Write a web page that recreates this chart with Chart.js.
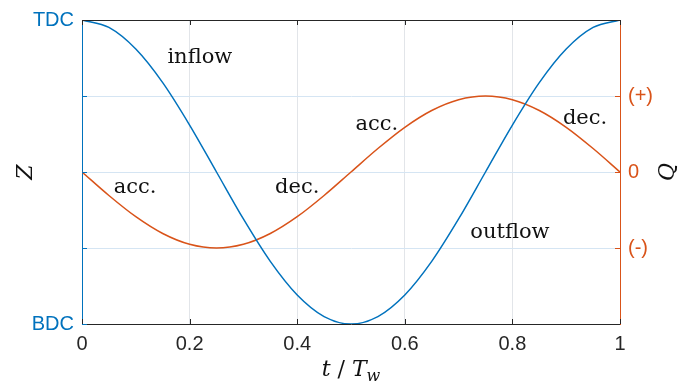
<!DOCTYPE html>
<html>
<head>
<meta charset="utf-8">
<script src="https://cdn.jsdelivr.net/npm/chart.js"></script>
<style>
html,body{margin:0;padding:0;background:#fff;}
#wrap{width:683px;height:387px;}
</style>
</head>
<body>
<div id="wrap"><canvas id="c" width="683" height="387"></canvas></div>
<script>
// Data
const tValues = [0,0.05,0.1,0.15,0.2,0.25,0.3,0.35,0.4,0.45,0.5,0.55,0.6,0.65,0.7,0.75,0.8,0.85,0.9,0.95,1];
const zValues = [1,0.951,0.809,0.588,0.309,0,-0.309,-0.588,-0.809,-0.951,-1,-0.951,-0.809,-0.588,-0.309,0,0.309,0.588,0.809,0.951,1];
const qValues = [0,-0.309,-0.588,-0.809,-0.951,-1,-0.951,-0.809,-0.588,-0.309,0,0.309,0.588,0.809,0.951,1,0.951,0.809,0.588,0.309,0];
const xTicks = [0,0.2,0.4,0.6,0.8,1];
const zTickLabels = {"1":"TDC","-1":"BDC"};
const qTickLabels = {"1":"(+)","0":"0","-1":"(-)"};
const annoText = ["inflow","acc.","dec.","acc.","dec.","outflow"];
const annoX = [0.219,0.0985,0.40,0.548,0.935,0.7955];
const annoY = [1.438,-0.276,-0.276,0.553,0.632,-0.868];

const BLUE = '#0072BD', ORANGE = '#D95319', DARK = '#262626';
const SERIF = '"DejaVu Serif", "Liberation Serif", serif';
const SANS = '"Liberation Sans", Arial, sans-serif';

const extras = {
  id: 'extras',
  afterDraw(chart) {
    const {ctx, chartArea: a, scales} = chart;
    const x = scales.x, yl = scales.yZ, yr = scales.yQ;
    ctx.save();
    // inward ticks
    ctx.lineWidth = 1;
    ctx.strokeStyle = DARK;
    x.ticks.forEach(t => {
      const px = Math.round(x.getPixelForValue(t.value)) + 0.5;
      ctx.beginPath(); ctx.moveTo(px, a.bottom); ctx.lineTo(px, a.bottom - 5); ctx.stroke();
      ctx.beginPath(); ctx.moveTo(px, a.top); ctx.lineTo(px, a.top + 5); ctx.stroke();
    });
    ctx.strokeStyle = BLUE;
    yl.ticks.forEach(t => {
      const py = Math.round(yl.getPixelForValue(t.value)) + 0.5;
      ctx.beginPath(); ctx.moveTo(a.left, py); ctx.lineTo(a.left + 5, py); ctx.stroke();
    });
    ctx.strokeStyle = ORANGE;
    yr.ticks.forEach(t => {
      const py = Math.round(yr.getPixelForValue(t.value)) + 0.5;
      ctx.beginPath(); ctx.moveTo(a.right, py); ctx.lineTo(a.right - 5, py); ctx.stroke();
    });
    // top border
    ctx.strokeStyle = DARK;
    ctx.beginPath(); ctx.moveTo(a.left, Math.round(a.top) + 0.5); ctx.lineTo(a.right, Math.round(a.top) + 0.5); ctx.stroke();
    // annotations
    ctx.fillStyle = '#111';
    ctx.font = '21px ' + SERIF;
    ctx.textAlign = 'center';
    ctx.textBaseline = 'alphabetic';
    annoText.forEach((s, i) => {
      ctx.fillText(s, x.getPixelForValue(annoX[i]), yr.getPixelForValue(annoY[i]));
    });
    // y titles (rotated ccw)
    ctx.font = 'italic 22px ' + SERIF;
    ctx.textBaseline = 'middle';
    ctx.save(); ctx.translate(26, (a.top + a.bottom) / 2); ctx.rotate(-Math.PI / 2); ctx.fillText('Z', 0, 0); ctx.restore();
    ctx.save(); ctx.translate(668, (a.top + a.bottom) / 2); ctx.rotate(-Math.PI / 2); ctx.fillText('Q', 0, 0); ctx.restore();
    // x title t / T_w
    ctx.textBaseline = 'alphabetic';
    ctx.textAlign = 'left';
    const parts = [['t', 'italic 22px ' + SERIF, 0], [' / ', '22px ' + SERIF, 0], ['T', 'italic 22px ' + SERIF, 0], ['w', 'italic 16px ' + SERIF, 5]];
    let total = 0;
    parts.forEach(p => { ctx.font = p[1]; total += ctx.measureText(p[0]).width; });
    let cx = (a.left + a.right) / 2 - total / 2;
    parts.forEach(p => { ctx.font = p[1]; ctx.fillText(p[0], cx, 376 + p[2]); cx += ctx.measureText(p[0]).width; });
    ctx.restore();
  }
};

const ctx = document.getElementById('c').getContext('2d');
new Chart(ctx, {
  type: 'line',
  data: {
    datasets: [
      { label: 'Z', data: tValues.map((t, i) => ({x: t, y: zValues[i]})), yAxisID: 'yZ',
        borderColor: BLUE, borderWidth: 1.5, pointRadius: 0, tension: 0.4, cubicInterpolationMode: 'monotone', fill: false },
      { label: 'Q', data: tValues.map((t, i) => ({x: t, y: qValues[i]})), yAxisID: 'yQ',
        borderColor: ORANGE, borderWidth: 1.5, pointRadius: 0, tension: 0.4, cubicInterpolationMode: 'monotone', fill: false }
    ]
  },
  options: {
    responsive: false,
    animation: false,
    events: [],
    layout: { padding: { top: 20, left: 0, right: 0, bottom: 0 } },
    plugins: { legend: { display: false }, tooltip: { enabled: false } },
    scales: {
      x: {
        type: 'linear', min: 0, max: 1,
        afterBuildTicks: s => { s.ticks = xTicks.map(v => ({value: v})); },
        afterFit: s => { s.height = 63; },
        ticks: { padding: 8, color: DARK, font: { family: SANS, size: 20 }, maxRotation: 0,
          callback: v => String(Math.round(v * 10) / 10) },
        grid: { color: '#e2e5e9', drawTicks: false, lineWidth: 1 },
        border: { color: DARK, width: 1 }
      },
      yZ: {
        type: 'linear', position: 'left', min: -1, max: 1,
        afterBuildTicks: s => { s.ticks = [-1, -0.5, 0, 0.5, 1].map(v => ({value: v})); },
        afterFit: s => { s.width = 82; },
        ticks: { padding: 8, color: BLUE, font: { family: SANS, size: 20 },
          callback: v => zTickLabels[String(v)] || '' },
        grid: { color: '#d5e5f3', drawTicks: false, lineWidth: 1 },
        border: { color: BLUE, width: 1 }
      },
      yQ: {
        type: 'linear', position: 'right', min: -2, max: 2,
        afterBuildTicks: s => { s.ticks = [-1, 0, 1].map(v => ({value: v})); },
        afterFit: s => { s.width = 63; },
        ticks: { padding: 8, color: ORANGE, font: { family: SANS, size: 20 },
          callback: v => qTickLabels[String(v)] || '' },
        grid: { display: false, drawTicks: false },
        border: { color: ORANGE, width: 1 }
      }
    }
  },
  plugins: [extras]
});
</script>
</body>
</html>
